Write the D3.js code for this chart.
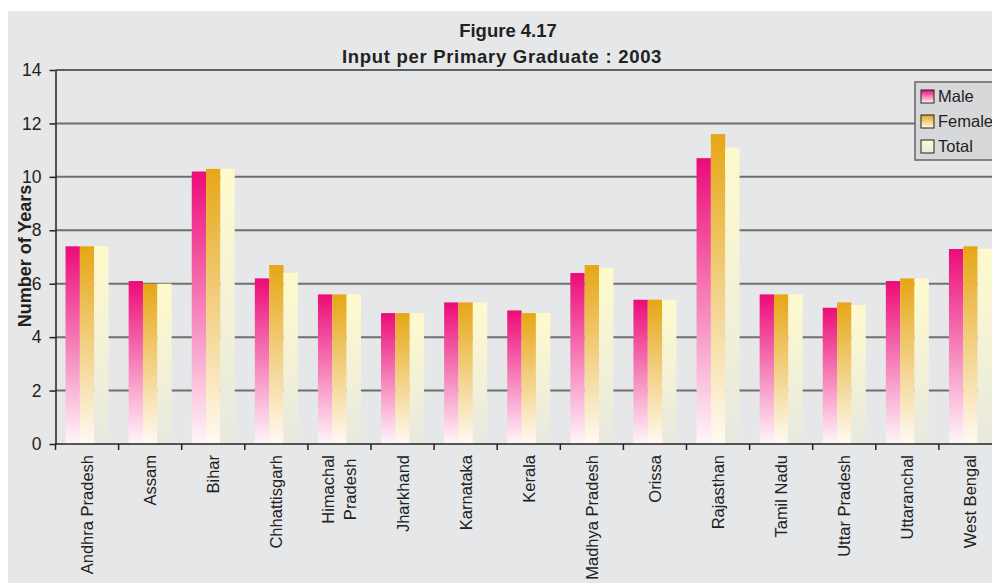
<!DOCTYPE html>
<html>
<head>
<meta charset="utf-8">
<script src="https://cdn.jsdelivr.net/npm/d3@7"></script>
<style>
  body { margin: 0; background: #fff; }
  svg { display: block; font-family: "Liberation Sans", Arial, sans-serif; }
</style>
</head>
<body>
<svg id="chart" width="992" height="583"></svg>
<script>
// data
const states = ['Andhra Pradesh', 'Assam', 'Bihar', 'Chhattisgarh', 'Himachal\nPradesh', 'Jharkhand',
  'Karnataka', 'Kerala', 'Madhya Pradesh', 'Orissa', 'Rajasthan', 'Tamil Nadu', 'Uttar Pradesh',
  'Uttaranchal', 'West Bengal'];
const seriesNames = ['Male', 'Female', 'Total'];
const male   = [7.4, 6.1, 10.2, 6.2, 5.6, 4.9, 5.3, 5.0, 6.4, 5.4, 10.7, 5.6, 5.1, 6.1, 7.3];
const female = [7.4, 6.0, 10.3, 6.7, 5.6, 4.9, 5.3, 4.9, 6.7, 5.4, 11.6, 5.6, 5.3, 6.2, 7.4];
const total  = [7.4, 6.0, 10.3, 6.4, 5.6, 4.9, 5.3, 4.9, 6.6, 5.4, 11.1, 5.6, 5.2, 6.2, 7.3];
const yTicks = [0, 2, 4, 6, 8, 10, 12, 14];

const FONT = '"Liberation Sans", Arial, sans-serif';
const svg = d3.select('#chart');
const W = 992, H = 583;

// gray panel
svg.append('rect').attr('x', 8).attr('y', 11).attr('width', W - 8).attr('height', H - 11)
  .attr('fill', '#e6e7e9');

// gradients (top colour -> bottom colour)
const grads = {
  Male:   ['#ec0b78', '#fff6fa'],
  Female: ['#e6a615', '#fffaf2'],
  Total:  ['#fffacc', '#e8e9e0']
};
const defs = svg.append('defs');
seriesNames.forEach(name => {
  const g = defs.append('linearGradient').attr('id', 'g-' + name)
    .attr('x1', 0).attr('y1', 0).attr('x2', 0).attr('y2', 1);
  g.append('stop').attr('offset', '0%').attr('stop-color', grads[name][0]);
  g.append('stop').attr('offset', '100%').attr('stop-color', grads[name][1]);
});

const left = 55.5, step = 63.1;
const x0 = d3.scaleBand()
  .domain(d3.range(states.length))
  .range([left, left + step * states.length])
  .padding(0);
const x1 = d3.scaleBand()
  .domain(seriesNames)
  .range([0, x0.bandwidth()])
  .paddingInner(0)
  .paddingOuter(0.7);
const y = d3.scaleLinear().domain([0, 14]).range([444, 70]);

// gridlines
svg.append('g').selectAll('line')
  .data(yTicks.filter(t => t > 0))
  .enter().append('line')
  .attr('x1', left).attr('x2', W)
  .attr('y1', d => y(d)).attr('y2', d => y(d))
  .attr('stroke', d => d === 14 ? '#333' : '#6f6f6f')
  .attr('stroke-width', d => d === 14 ? 1.5 : 2);

// bars
const seriesData = { Male: male, Female: female, Total: total };
const groups = svg.append('g').selectAll('g')
  .data(states)
  .enter().append('g')
  .attr('transform', (d, i) => `translate(${x0(i)},0)`);
groups.selectAll('rect')
  .data((d, i) => seriesNames.map(s => ({ s, v: seriesData[s][i] })))
  .enter().append('rect')
  .attr('x', d => x1(d.s))
  .attr('y', d => y(d.v))
  .attr('width', x1.bandwidth())
  .attr('height', d => y(0) - y(d.v))
  .attr('fill', d => `url(#g-${d.s})`);

// y axis
const yAxis = d3.axisLeft(y).tickValues(yTicks).tickSize(6).tickSizeOuter(0).tickPadding(8);
const yg = svg.append('g').attr('transform', `translate(${left},0)`).call(yAxis);
yg.select('.domain').attr('stroke', '#222').attr('stroke-width', 1.5);
yg.selectAll('.tick line').attr('stroke', '#222').attr('stroke-width', 1.5);
yg.selectAll('.tick text').attr('font-size', 17.5).attr('fill', '#222')
  .attr('font-family', FONT);

// x axis
const xg = svg.append('g').attr('transform', `translate(0,${y(0)})`);
xg.append('line').attr('x1', left).attr('x2', W).attr('y1', 0).attr('y2', 0)
  .attr('stroke', '#222').attr('stroke-width', 1.5);
xg.selectAll('line.tk')
  .data(d3.range(states.length + 1))
  .enter().append('line').attr('class', 'tk')
  .attr('x1', i => left + i * x0.step()).attr('x2', i => left + i * x0.step())
  .attr('y1', 0).attr('y2', 6)
  .attr('stroke', '#222').attr('stroke-width', 1.5);

// x labels (rotated, may be wrapped)
states.forEach((name, i) => {
  const lines = name.split('\n');
  const cx = x0(i) + x0.bandwidth() / 2;
  const g = svg.append('g').attr('transform', `translate(${cx},455) rotate(-90)`);
  const texts = lines.map((ln, j) => g.append('text')
    .attr('font-size', 16.5).attr('fill', '#222').attr('font-family', FONT)
    .attr('text-anchor', 'middle')
    .attr('y', (j - (lines.length - 1) / 2) * 22 + 6)
    .text(ln));
  const maxLen = d3.max(texts, t => t.node().getComputedTextLength());
  texts.forEach(t => t.attr('x', -maxLen / 2));
});

// y title
svg.append('text')
  .attr('transform', 'translate(31,256) rotate(-90)')
  .attr('text-anchor', 'middle').attr('font-family', FONT)
  .attr('font-size', 18).attr('font-weight', 'bold').attr('fill', '#222')
  .text('Number of Years');

// title
svg.append('text').attr('x', 508).attr('y', 37).attr('text-anchor', 'middle')
  .attr('font-size', 18.5).attr('font-weight', 'bold').attr('fill', '#222').attr('font-family', FONT)
  .text('Figure 4.17');
svg.append('text').attr('x', 502).attr('y', 63).attr('text-anchor', 'middle')
  .attr('font-size', 18.5).attr('font-weight', 'bold').attr('fill', '#222').attr('font-family', FONT)
  .attr('letter-spacing', 0.7)
  .text('Input per Primary Graduate : 2003');

// legend
const lg = svg.append('g').attr('transform', 'translate(915,82)');
lg.append('rect').attr('width', 90).attr('height', 78)
  .attr('fill', '#d7d8da').attr('stroke', '#666').attr('stroke-width', 1.5);
seriesNames.forEach((name, i) => {
  const row = lg.append('g').attr('transform', `translate(6,${8 + i * 25})`);
  row.append('rect').attr('width', 13).attr('height', 13)
    .attr('fill', `url(#g-${name})`).attr('stroke', '#222').attr('stroke-width', 1);
  row.append('text').attr('x', 17).attr('y', 12).attr('font-family', FONT)
    .attr('font-size', 16.5).attr('fill', '#222').text(name);
});
</script>
</body>
</html>
